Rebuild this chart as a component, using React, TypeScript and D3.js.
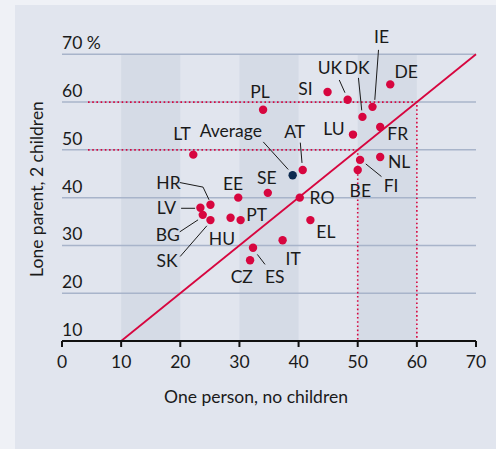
import React from "react";
import * as d3 from "d3";

const countries = ["DE","SI","UK","IE","DK","PL","FR","LU","NL","FI","BE","AT","SE","RO","PT","EL","IT","ES","CZ","EE","HR","LV","BG","SK","HU","LT"];
const onePerson = [55.5,44.9,48.3,52.5,50.8,34.0,53.8,49.2,53.8,50.4,50.0,40.7,34.8,40.2,30.2,42.0,37.3,32.3,31.8,29.8,25.1,23.4,23.8,25.1,28.5,22.2];
const loneParent = [63.7,62.1,60.5,59.0,56.9,58.4,54.8,53.2,48.5,47.9,45.8,45.8,41.0,40.0,35.3,35.3,31.1,29.5,26.9,40.0,38.5,37.9,36.4,35.3,35.8,49.0];
const averageX = 39.0;
const averageY = 44.7;
const xTicks = [0,10,20,30,40,50,60,70];
const yTicks = [10,20,30,40,50,60,70];
const bands = [[10,20],[30,40],[50,60]];

// label placement (pixel offsets from each point, style only)
const labelOffset: Record<string, [number, number]> = {
  DE: [16, -6], SI: [-22, 3], UK: [-17.7, -25.7], DK: [-5.2, -43], IE: [9, -63.7],
  PL: [-3, -12], FR: [17.5, 13], LU: [-19, 0.3], NL: [19, 11.3], FI: [31, 31.7],
  BE: [2.6, 26.7], AT: [-8, -31.7], SE: [-1, -8.7], RO: [22.3, 6.3], PT: [16, 0.4],
  EL: [15.5, 18], IT: [10.5, 24.7], ES: [21.7, 35.6], CZ: [-8.3, 23], EE: [-5.2, -7.7],
  HR: [-42, -15.7], LV: [-34, 6.6], BG: [-35, 26], SK: [-43.3, 46.4], HU: [-8.6, 27.3], LT: [-11.2, -14.7],
};
const leaderOffsets: Record<string, [number, number][]> = {
  IE: [[6, -57], [2.3, -7]],
  UK: [[-8.4, -19.7], [-2.7, -7]],
  DK: [[-4, -39], [-0.7, -6.5]],
  FI: [[5.7, 4], [21.4, 16.7]],
  AT: [[-2.4, -27.3], [-0.7, -7]],
  ES: [[4.3, 6.6], [12, 16.6]],
  HR: [[-30.7, -22.3], [-7.4, -17.7], [-1.4, -5]],
  LV: [[-19.3, 0.6], [-5.3, 0.6]],
  BG: [[-23, 17], [-4.7, 5]],
  SK: [[-30.3, 36.4], [-3.6, 5.7]],
};

export default function App() {
  const W = 496, H = 449;
  const x = d3.scaleLinear().domain([0, 70]).range([62, 476]);
  const y = d3.scaleLinear().domain([10, 70]).range([341, 54.3]);
  const red = "#d7063f";
  const font = "Lato, 'Open Sans', sans-serif";
  const fs = 17.5;
  const line = d3.line<[number, number]>().x(d => x(d[0])).y(d => y(d[1]));
  const pline = d3.line<[number, number]>();
  const ax = x(averageX), ay = y(averageY);
  return (
    <svg width={W} height={H} style={{ position: "absolute", left: 0, top: 0 }}>
      <rect x={0} y={0} width={W} height={H} fill="#eff1f6" />
      <rect x={15} y={5} width={W - 15} height={H - 5} fill="#e1e5ee" />
      {bands.map((b, i) => (
        <rect key={i} x={x(b[0])} y={y(70)} width={x(b[1]) - x(b[0])} height={y(10) - y(70)} fill="#d5dbe6" />
      ))}
      {yTicks.filter(t => t > 10).map(t => (
        <line key={t} x1={x(0)} x2={x(70)} y1={y(t)} y2={y(t)} stroke="#a8b4ca" strokeWidth={1.5} />
      ))}
      {yTicks.map(t => (
        <text key={t} x={x(0)} y={y(t) - 5} fontFamily={font} fontSize={fs} fill="#1a1a1a">{t === 70 ? "70 %" : t}</text>
      ))}
      <path d={line([[4.4, 60], [60, 60], [60, 10]])!} fill="none" stroke={red} strokeWidth={1.6} strokeDasharray="1.6 2.6" />
      <path d={line([[4.4, 50], [50, 50], [50, 10]])!} fill="none" stroke={red} strokeWidth={1.6} strokeDasharray="1.6 2.6" />
      <path d={line([[10, 10], [70, 70]])!} fill="none" stroke={red} strokeWidth={1.8} />
      <line x1={x(0)} x2={x(70)} y1={y(10)} y2={y(10)} stroke="#111" strokeWidth={2} />
      {xTicks.map(t => (
        <g key={t}>
          <line x1={x(t)} x2={x(t)} y1={y(10)} y2={y(10) + 6} stroke="#111" strokeWidth={2} />
          <text x={x(t)} y={368} textAnchor="middle" fontFamily={font} fontSize={fs} fill="#1a1a1a">{t}</text>
        </g>
      ))}
      <text x={256} y={403} textAnchor="middle" fontFamily={font} fontSize={fs} fill="#1a1a1a">One person, no children</text>
      <text transform={`translate(43,189) rotate(-90)`} textAnchor="middle" fontFamily={font} fontSize={fs} fill="#1a1a1a">Lone parent, 2 children</text>
      {countries.map((c, i) => {
        const l = leaderOffsets[c];
        if (!l) return null;
        const px = x(onePerson[i]), py = y(loneParent[i]);
        return <path key={c} d={pline(l.map(([dx, dy]) => [px + dx, py + dy] as [number, number]))!} fill="none" stroke="#1a1a1a" strokeWidth={1} />;
      })}
      <path d={pline([[ax - 29.4, ay - 33.3], [ax - 4.4, ay - 5.7]])!} fill="none" stroke="#1a1a1a" strokeWidth={1} />
      {countries.map((c, i) => (
        <circle key={c} cx={x(onePerson[i])} cy={y(loneParent[i])} r={4.2} fill={red} />
      ))}
      <circle cx={ax} cy={ay} r={4.2} fill="#0d2a4f" />
      {countries.map((c, i) => {
        const [dx, dy] = labelOffset[c];
        return (
          <text key={c} x={x(onePerson[i]) + dx} y={y(loneParent[i]) + dy} textAnchor="middle" fontFamily={font} fontSize={fs} fill="#1a1a1a">{c}</text>
        );
      })}
      <text x={ax - 30.7} y={ay - 37.7} textAnchor="end" fontFamily={font} fontSize={fs} fill="#1a1a1a">Average</text>
    </svg>
  );
}
